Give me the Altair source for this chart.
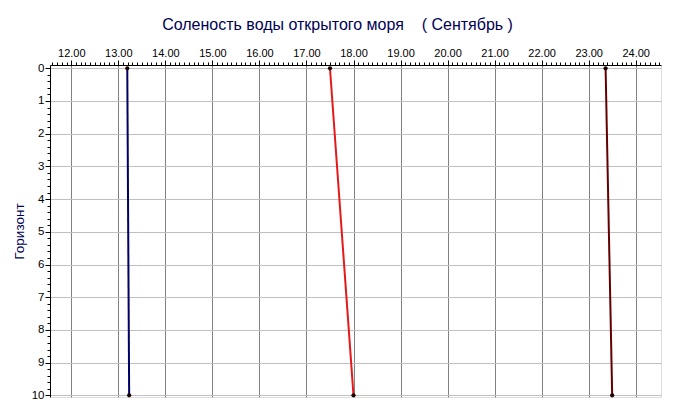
import altair as alt
import pandas as pd
import numpy as np

# Data
series_names = ["s1", "s2", "s3"]
horizons = [0, 10]
blue_vals = [13.19, 13.23]
red_vals = [17.50, 18.00]
darkred_vals = [23.36, 23.50]
series_colors = ["#000066", "#e41a1a", "#640000"]

x_major = [12, 13, 14, 15, 16, 17, 18, 19, 20, 21, 22, 23, 24]
y_major = [0, 1, 2, 3, 4, 5, 6, 7, 8, 9, 10]

rows = []
for name, vals in zip(series_names, [blue_vals, red_vals, darkred_vals]):
    for h, v in zip(horizons, vals):
        rows.append({"series": name, "horizon": h, "value": v})
df = pd.DataFrame(rows)

x_minor = [round(v, 1) for v in np.arange(11.6, 24.55, 0.1) if abs(v - round(v)) > 1e-6]
y_minor = [round(v, 1) for v in np.arange(0.2, 10.0, 0.2) if abs(v - round(v)) > 1e-6]

xdom = [11.547, 24.538]
ydom = [-0.1, 10.05]
FONT = "Liberation Sans"
NAVY = "#000055"

xscale = alt.Scale(domain=xdom, nice=False, zero=False)
yscale = alt.Scale(domain=ydom, nice=False, zero=False, reverse=True)

base = alt.Chart(df)

lines = base.mark_line(strokeWidth=2).encode(
    x=alt.X("value:Q", scale=xscale, axis=alt.Axis(
        orient="top", values=x_major, format=".2f", title=None,
        tickSize=5, tickColor="black", domainColor="black",
        labelFontSize=11, labelColor="black", labelFont=FONT, labelPadding=2,
        grid=True, gridColor="#808080", gridWidth=1)),
    y=alt.Y("horizon:Q", scale=yscale, axis=alt.Axis(
        orient="left", values=y_major, format="d", title="Горизонт",
        tickSize=5, tickColor="black", domainColor="black",
        labelFontSize=11.5, labelColor="black", labelFont=FONT, labelPadding=1,
        titleFont=FONT, titleFontSize=13.5, titleFontWeight="normal", titleColor=NAVY,
        titlePadding=5,
        grid=True, gridColor="#c0c0c0", gridWidth=1)),
    color=alt.Color("series:N", scale=alt.Scale(domain=series_names, range=series_colors), legend=None),
    detail="series:N",
)

points = base.mark_circle(size=18, color="#1a0000", opacity=1).encode(
    x=alt.X("value:Q", scale=xscale, axis=None),
    y=alt.Y("horizon:Q", scale=yscale, axis=None),
)

minor = base.mark_point(opacity=0).encode(
    x=alt.X("value:Q", scale=xscale, axis=alt.Axis(
        orient="top", values=x_minor, labels=False, title=None, domain=False,
        tickSize=3, tickColor="black", grid=False)),
    y=alt.Y("horizon:Q", scale=yscale, axis=alt.Axis(
        orient="left", values=y_minor, labels=False, title=None, domain=False,
        tickSize=3, tickColor="black", grid=False)),
)

chart = alt.layer(lines, points, minor).resolve_axis(
    x="independent", y="independent"
).properties(
    width=611,
    height=332,
    autosize=alt.AutoSizeParams(type="none"),
    padding={"left": 42, "top": 57, "right": 6, "bottom": 14},
    title=alt.TitleParams(
        "Соленость воды открытого моря\u00a0\u00a0\u00a0\u00a0( Сентябрь )",
        font=FONT, fontSize=16, fontWeight="normal", color=NAVY,
        anchor="middle", dx=-18, offset=14,
    ),
).configure_view(
    stroke="black", strokeWidth=1
).configure(background="white")

chart.save("out.html", embed_options={"renderer": "svg", "actions": False})
